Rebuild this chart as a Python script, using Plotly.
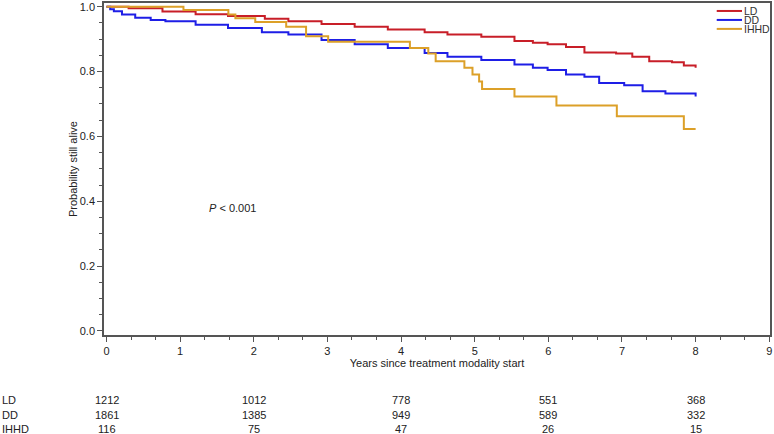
import plotly.graph_objects as go

# ---- data ----
ld_t = [0, 0.30, 0.76, 1.21, 1.65, 2.15, 2.47, 2.92, 3.37, 3.82, 4.32, 4.63, 5.09, 5.54, 5.79, 5.99, 6.24, 6.49, 6.92, 7.14, 7.37, 7.68, 7.84, 8.0]
ld_s = [1.0, 0.995, 0.985, 0.977, 0.971, 0.963, 0.955, 0.947, 0.938, 0.930, 0.921, 0.914, 0.907, 0.894, 0.889, 0.884, 0.876, 0.859, 0.856, 0.846, 0.832, 0.829, 0.819, 0.812]

dd_t = [0, 0.05, 0.10, 0.21, 0.39, 0.60, 0.80, 1.21, 1.65, 2.11, 2.47, 2.92, 3.37, 3.82, 4.32, 4.63, 5.09, 5.54, 5.79, 5.99, 6.24, 6.49, 6.69, 7.03, 7.28, 7.59, 8.0]
dd_s = [1.0, 0.992, 0.986, 0.976, 0.966, 0.959, 0.955, 0.944, 0.934, 0.921, 0.914, 0.897, 0.884, 0.873, 0.857, 0.846, 0.836, 0.822, 0.812, 0.805, 0.791, 0.784, 0.765, 0.758, 0.739, 0.732, 0.723]

ihhd_t = [0, 1.045, 1.655, 1.75, 2.02, 2.44, 2.71, 3.01, 4.12, 4.37, 4.47, 4.86, 4.97, 5.06, 5.10, 5.54, 6.11, 6.93, 7.84, 8.0]
ihhd_s = [1.0, 0.990, 0.976, 0.964, 0.953, 0.938, 0.909, 0.892, 0.873, 0.856, 0.832, 0.812, 0.791, 0.769, 0.746, 0.723, 0.695, 0.662, 0.623, 0.623]

groups = ["LD", "DD", "IHHD"]
colors = ["#C81E28", "#1E1EE6", "#DCA028"]

risk_times = [0, 2, 4, 6, 8]
risk_ld = [1212, 1012, 778, 551, 368]
risk_dd = [1861, 1385, 949, 589, 332]
risk_ihhd = [116, 75, 47, 26, 15]

x_ticks = list(range(0, 10))
y_ticks = [0.0, 0.2, 0.4, 0.6, 0.8, 1.0]

FONT = "Liberation Sans, Arial, sans-serif"
TXT = "#222222"

fig = go.Figure()
series = [(ld_t, ld_s), (dd_t, dd_s), (ihhd_t, ihhd_s)]
for (t, s), name, col in zip(series, groups, colors):
    fig.add_trace(go.Scatter(x=t, y=s, mode="lines", name=name,
                             line=dict(color=col, width=2, shape="hv"),
                             showlegend=False))

# custom compact legend
leg_y = [0.976, 0.949, 0.922]
for name, col, yy in zip(groups, colors, leg_y):
    fig.add_shape(type="line", xref="paper", yref="paper",
                  x0=0.920, x1=0.958, y0=yy, y1=yy,
                  line=dict(color=col, width=2))
    fig.add_annotation(xref="paper", yref="paper", x=0.960, y=yy,
                       text=name, showarrow=False, xanchor="left", yanchor="middle",
                       borderpad=0,
                       font=dict(size=10.5, color="#333333", family=FONT))

# P-value annotation
fig.add_annotation(x=1.71, y=0.38, xref="x", yref="y",
                   text="<i>P</i> < 0.001", showarrow=False,
                   font=dict(size=11, color=TXT, family=FONT))

# numbers at risk table
risk_rows = [risk_ld, risk_dd, risk_ihhd]
row_y = [-0.197, -0.241, -0.282]
for name, vals, yy in zip(groups, risk_rows, row_y):
    fig.add_annotation(xref="paper", yref="paper", x=-0.155, y=yy,
                       text=name, showarrow=False, xanchor="left", yanchor="middle",
                       borderpad=0,
                       font=dict(size=11, color=TXT, family=FONT))
    for tt, v in zip(risk_times, vals):
        fig.add_annotation(xref="x", yref="paper", x=tt, y=yy,
                           text=str(v), showarrow=False, xanchor="center", yanchor="middle",
                           borderpad=0,
                           font=dict(size=11, color=TXT, family=FONT))

axis_col = "#555555"
fig.update_xaxes(range=[-0.034, 9.01], tickvals=x_ticks, ticktext=[str(v) for v in x_ticks],
                 ticks="outside", ticklen=5, tickcolor=axis_col, tickwidth=1,
                 minor=dict(dtick=1/3, tick0=0, ticks="outside", ticklen=3, tickcolor=axis_col),
                 showline=True, linecolor=axis_col, linewidth=1.5, mirror=True,
                 showgrid=False, zeroline=False, automargin=False,
                 tickfont=dict(size=11, color=TXT, family=FONT),
                 title=dict(text="Years since treatment modality start", standoff=2,
                            font=dict(size=11, color=TXT, family=FONT)))
fig.update_yaxes(range=[-0.0124, 1.0114], tickvals=y_ticks, ticktext=[f"{v:.1f}" for v in y_ticks],
                 ticks="outside", ticklen=5, tickcolor=axis_col, tickwidth=1,
                 minor=dict(dtick=0.05, tick0=0, ticks="outside", ticklen=3, tickcolor=axis_col),
                 showline=True, linecolor=axis_col, linewidth=1.5, mirror=True,
                 showgrid=False, zeroline=False, automargin=False,
                 tickfont=dict(size=11, color=TXT, family=FONT),
                 title=dict(text="Probability still alive", standoff=0,
                            font=dict(size=11, color=TXT, family=FONT)))

fig.update_layout(width=774, height=434, margin=dict(l=104, r=4, t=3, b=99),
                  paper_bgcolor="white", plot_bgcolor="white",
                  font=dict(family=FONT, size=11, color=TXT))

fig.write_html("out.html", config={"displayModeBar": False},
               post_script="document.body.style.margin='0px';document.body.style.overflow='hidden';")
